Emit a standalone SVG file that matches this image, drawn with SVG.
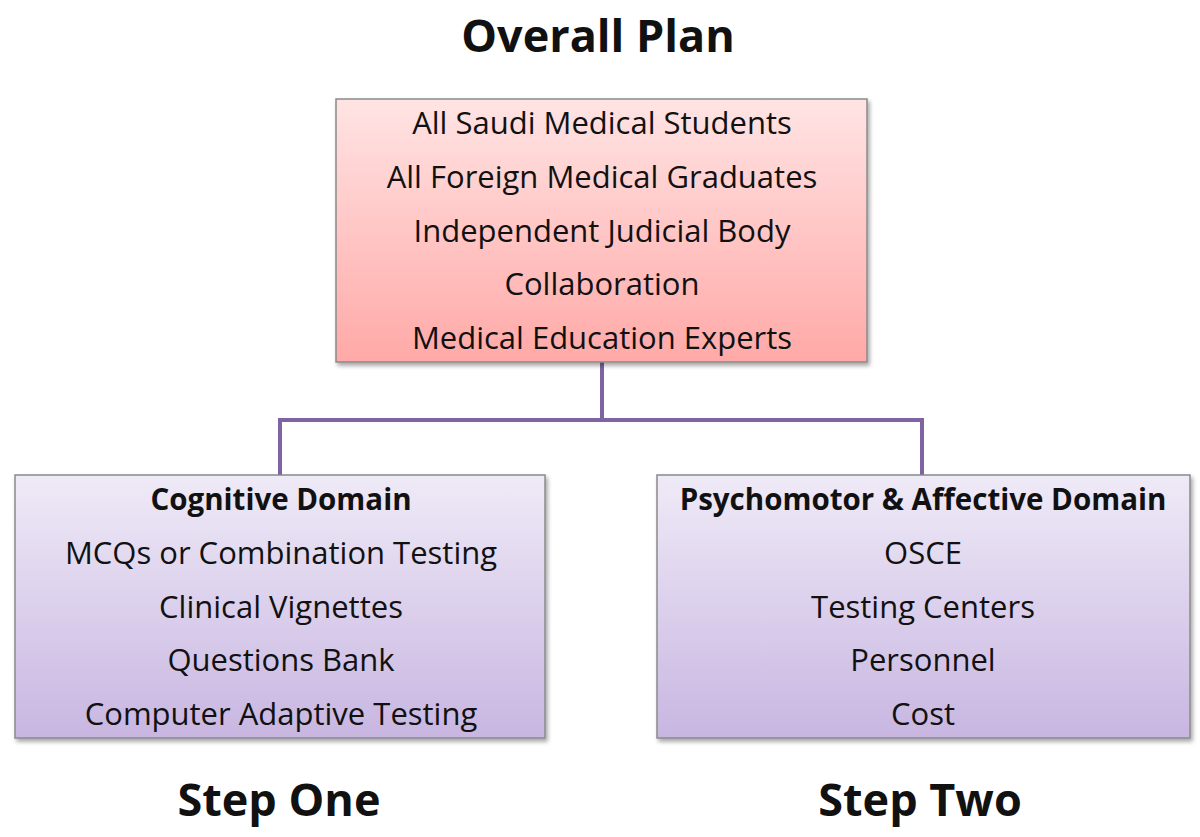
<svg xmlns="http://www.w3.org/2000/svg" width="1200" height="837" viewBox="0 0 1200 837">
<defs>
<linearGradient id="gPink" x1="0" y1="0" x2="0" y2="1"><stop offset="0" stop-color="#FFE4E4"/><stop offset="1" stop-color="#FFA9A7"/></linearGradient>
<linearGradient id="gPurple" x1="0" y1="0" x2="0" y2="1"><stop offset="0" stop-color="#EFEAF7"/><stop offset="1" stop-color="#C8B6E1"/></linearGradient>
<filter id="sh" x="-5%" y="-5%" width="110%" height="115%"><feDropShadow dx="2" dy="3" stdDeviation="2" flood-color="#000" flood-opacity="0.35"/></filter>
</defs>
<style>
text{font-family:"Open Sans","Liberation Sans",sans-serif;fill:#111;text-anchor:middle}
.t{font-size:31px}
.b{font-size:29.5px;font-weight:bold}
.h{font-size:45px;font-weight:bold}
.box{stroke:#8a8a8a;stroke-width:1.5;filter:url(#sh)}
.conn{fill:none;stroke:#7F63A2;stroke-width:4}
</style>
<rect width="1200" height="837" fill="#fff"/>
<text class="h" x="598" y="52">Overall Plan</text>
<g id="connectors">
<path class="conn" d="M602 362 V420 M280 475 V420 H922 V475"/>
</g>
<g id="top">
<rect class="box" x="336" y="99" width="531" height="263" fill="url(#gPink)"/>
<text class="t" x="602" y="134">All Saudi Medical Students</text>
<text class="t" x="602" y="188">All Foreign Medical Graduates</text>
<text class="t" x="602" y="242">Independent Judicial Body</text>
<text class="t" x="602" y="295">Collaboration</text>
<text class="t" x="602" y="349">Medical Education Experts</text>
</g>
<g id="left">
<rect class="box" x="15" y="475" width="530" height="263" fill="url(#gPurple)"/>
<text class="b" x="281" y="510">Cognitive Domain</text>
<text class="t" x="281" y="564">MCQs or Combination Testing</text>
<text class="t" x="281" y="618">Clinical Vignettes</text>
<text class="t" x="281" y="671">Questions Bank</text>
<text class="t" x="281" y="725">Computer Adaptive Testing</text>
</g>
<g id="right">
<rect class="box" x="657" y="475" width="533" height="263" fill="url(#gPurple)"/>
<text class="b" x="923" y="510">Psychomotor &amp; Affective Domain</text>
<text class="t" x="923" y="564">OSCE</text>
<text class="t" x="923" y="618">Testing Centers</text>
<text class="t" x="923" y="671">Personnel</text>
<text class="t" x="923" y="725">Cost</text>
</g>
<text class="h" x="279" y="816">Step One</text>
<text class="h" x="920" y="816">Step Two</text>
</svg>
